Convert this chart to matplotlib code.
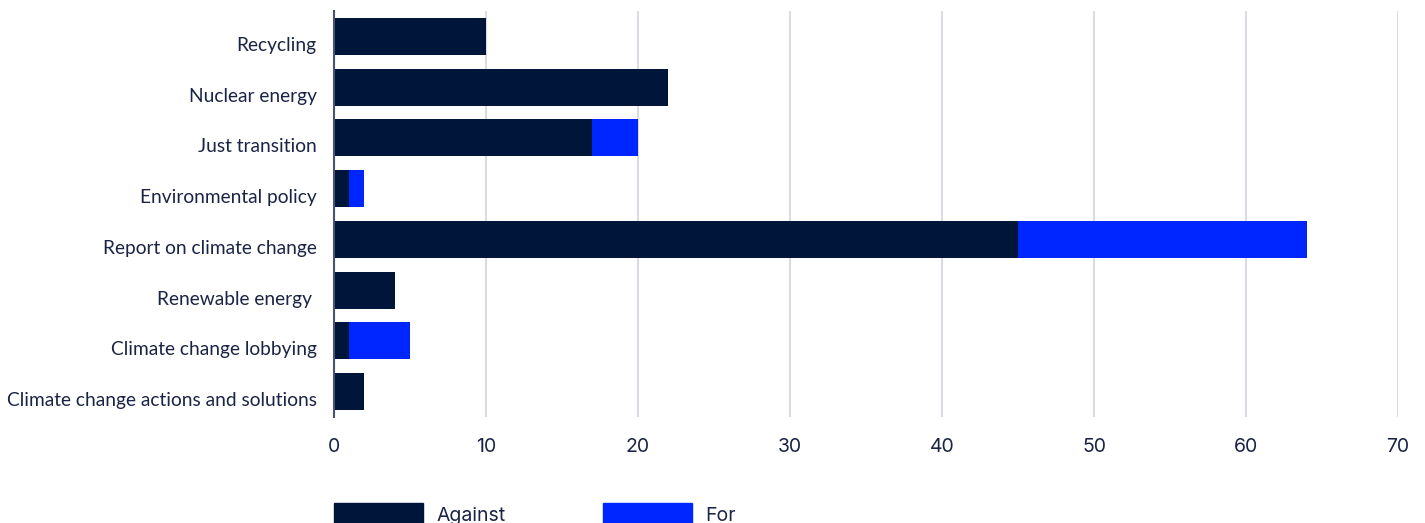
import matplotlib.pyplot as plt
from matplotlib.patches import Patch

# categories top to bottom
categories = ['Recycling', 'Nuclear energy', 'Just transition', 'Environmental policy',
              'Report on climate change', 'Renewable energy ', 'Climate change lobbying',
              'Climate change actions and solutions']
against = [10, 22, 17, 1, 45, 4, 1, 2]
for_votes = [0, 0, 3, 1, 19, 0, 4, 0]
x_ticks = [0, 10, 20, 30, 40, 50, 60, 70]

navy = '#00153a'
blue = '#0026ff'
text_col = '#1b2445'

fig = plt.figure(figsize=(14.25, 5.23), dpi=100)
ax = fig.add_axes([334 / 1425, 1 - 417 / 523, (1398 - 334) / 1425, (417 - 11) / 523])

y = list(range(len(categories)))
ax.barh(y, against, height=0.73, color=navy, label='Against', zorder=3)
ax.barh(y, for_votes, left=against, height=0.73, color=blue, label='For', zorder=3)

ax.set_xlim(0, 70)
ax.set_ylim(7.5, -0.5)
ax.set_xticks(x_ticks)
# labels sit a little below the bar centres in the original (ticks are hidden)
ax.set_yticks([i + 0.15 for i in y])
ax.set_yticklabels(categories, fontfamily='Lato', fontsize=13.8, color=text_col)
for lbl in ax.get_xticklabels():
    lbl.set_fontfamily('Inter')
    lbl.set_fontsize(14)
    lbl.set_color(text_col)

ax.xaxis.grid(True, color='#d9dce3', linewidth=1.5, zorder=0)
for s in ['top', 'right', 'bottom']:
    ax.spines[s].set_visible(False)
ax.spines['left'].set_color('#4a5470')
ax.spines['left'].set_linewidth(1.5)
ax.spines['left'].set_zorder(4)
ax.tick_params(axis='both', length=0)
ax.tick_params(axis='y', pad=12.5)
ax.tick_params(axis='x', pad=15)

handles = [Patch(color=navy, label='Against'), Patch(color=blue, label='For')]
fig.legend(handles=handles, loc='upper left', bbox_to_anchor=(334 / 1425, 1 - 503 / 523),
           ncol=2, frameon=False, borderpad=0, borderaxespad=0,
           handlelength=4.6, handleheight=1.5, handletextpad=0.67, columnspacing=5.0,
           prop={'family': 'Inter', 'size': 14}, labelcolor=text_col)

fig.savefig('out.png', dpi=100)
